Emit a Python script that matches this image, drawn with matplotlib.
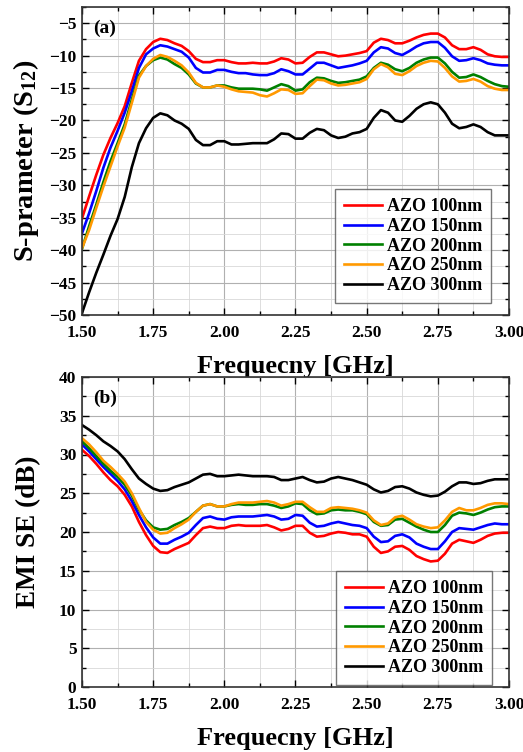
import matplotlib
matplotlib.use("Agg")
import matplotlib.pyplot as plt
from matplotlib.ticker import MultipleLocator, FormatStrFormatter

plt.rcParams['font.family'] = ['Liberation Serif', 'DejaVu Serif']
plt.rcParams['font.weight'] = 'bold'
plt.rcParams['mathtext.fontset'] = 'custom'
plt.rcParams['mathtext.rm'] = 'Liberation Serif:bold'
plt.rcParams['mathtext.bf'] = 'Liberation Serif:bold'
plt.rcParams['mathtext.it'] = 'Liberation Serif:bold'
plt.rcParams['mathtext.default'] = 'bf'

freq = [1.500, 1.525, 1.550, 1.575, 1.600, 1.625, 1.650, 1.675, 1.700, 1.725,
        1.750, 1.775, 1.800, 1.825, 1.850, 1.875, 1.900, 1.925, 1.950, 1.975,
        2.000, 2.025, 2.050, 2.075, 2.100, 2.125, 2.150, 2.175, 2.200, 2.225,
        2.250, 2.275, 2.300, 2.325, 2.350, 2.375, 2.400, 2.425, 2.450, 2.475,
        2.500, 2.525, 2.550, 2.575, 2.600, 2.625, 2.650, 2.675, 2.700, 2.725,
        2.750, 2.775, 2.800, 2.825, 2.850, 2.875, 2.900, 2.925, 2.950, 2.975,
        3.000]

labels = ["AZO 100nm", "AZO 150nm", "AZO 200nm", "AZO 250nm", "AZO 300nm"]
colors = ["#ff0000", "#0000ff", "#008000", "#ff9900", "#000000"]

# (a) S-parameter S12 [dB]
s12_100 = [-35.1, -31.7, -28.4, -25.3, -22.7, -20.4, -17.8, -14.2, -10.8, -9.0,
           -7.9, -7.4, -7.6, -8.1, -8.5, -9.3, -10.5, -11.0, -11.0, -10.7,
           -10.7, -11.0, -11.2, -11.2, -11.1, -11.2, -11.2, -10.9, -10.4, -10.6,
           -11.2, -11.1, -10.2, -9.5, -9.5, -9.8, -10.1, -10.0, -9.8, -9.6,
           -9.3, -8.0, -7.4, -7.6, -8.1, -8.1, -7.7, -7.2, -6.8, -6.6,
           -6.6, -7.2, -8.4, -9.0, -9.0, -8.7, -9.1, -9.8, -10.1, -10.2,
           -10.2]
s12_150 = [-37.4, -34.3, -30.9, -27.3, -24.2, -21.6, -18.8, -15.5, -11.9, -9.8,
           -8.9, -8.4, -8.6, -9.0, -9.4, -10.3, -11.9, -12.6, -12.6, -12.2,
           -12.2, -12.5, -12.7, -12.7, -12.9, -13.0, -13.0, -12.7, -12.1, -12.4,
           -12.9, -12.9, -12.0, -11.1, -11.1, -11.5, -11.9, -11.7, -11.5, -11.2,
           -10.8, -9.5, -8.7, -8.9, -9.6, -9.9, -9.3, -8.6, -8.1, -7.9,
           -7.9, -8.8, -10.1, -10.8, -10.7, -10.4, -10.7, -11.2, -11.4, -11.5,
           -11.5]
s12_200 = [-39.8, -36.3, -33.0, -29.5, -26.3, -23.5, -20.6, -16.8, -13.1, -11.6,
           -10.7, -10.3, -10.6, -11.3, -11.9, -12.9, -14.3, -14.9, -14.9, -14.6,
           -14.6, -14.9, -15.1, -15.1, -15.1, -15.2, -15.4, -14.9, -14.4, -14.7,
           -15.4, -15.2, -14.1, -13.4, -13.5, -13.9, -14.2, -14.1, -13.9, -13.7,
           -13.2, -11.9, -11.1, -11.4, -12.1, -12.4, -11.9, -11.1, -10.6, -10.3,
           -10.3, -11.2, -12.5, -13.4, -13.3, -12.9, -13.3, -13.9, -14.4, -14.7,
           -14.8]
s12_250 = [-39.7, -36.9, -33.5, -30.2, -27.1, -24.0, -21.1, -17.3, -13.4, -11.6,
           -10.5, -9.9, -10.2, -10.8, -11.5, -12.6, -14.2, -14.9, -14.9, -14.6,
           -14.8, -15.2, -15.5, -15.6, -15.7, -16.1, -16.3, -15.8, -15.2, -15.3,
           -15.9, -15.8, -14.7, -13.7, -13.8, -14.3, -14.6, -14.5, -14.3, -14.1,
           -13.6, -12.1, -11.3, -11.8, -12.8, -13.0, -12.4, -11.6, -11.1, -10.8,
           -10.9, -11.9, -13.2, -14.0, -13.9, -13.6, -14.0, -14.7, -15.1, -15.3,
           -15.3]
s12_300 = [-49.7, -46.5, -43.5, -40.7, -37.8, -35.2, -31.8, -27.2, -23.5, -21.2,
           -19.6, -18.9, -19.2, -20.0, -20.5, -21.3, -23.0, -23.8, -23.8, -23.2,
           -23.2, -23.7, -23.7, -23.6, -23.5, -23.5, -23.5, -22.9, -22.0, -22.1,
           -22.8, -22.8, -21.9, -21.3, -21.5, -22.3, -22.7, -22.5, -22.0, -21.8,
           -21.3, -19.6, -18.4, -18.8, -20.0, -20.2, -19.3, -18.2, -17.5, -17.2,
           -17.5, -18.8, -20.5, -21.2, -21.0, -20.6, -21.0, -21.8, -22.3, -22.3,
           -22.3]

# (b) EMI SE [dB]
se_100 = [30.6, 29.8, 28.8, 27.7, 26.7, 25.9, 24.8, 23.3, 21.3, 19.6,
          18.2, 17.4, 17.3, 17.8, 18.2, 18.6, 19.6, 20.5, 20.7, 20.5,
          20.5, 20.8, 20.9, 20.8, 20.8, 20.8, 20.9, 20.6, 20.2, 20.4,
          20.8, 20.8, 19.9, 19.4, 19.5, 19.8, 20.0, 19.9, 19.7, 19.7,
          19.4, 18.1, 17.3, 17.5, 18.1, 18.2, 17.7, 16.9, 16.5, 16.2,
          16.3, 17.2, 18.5, 19.0, 18.8, 18.6, 19.0, 19.5, 19.8, 19.9,
          19.9]
se_150 = [31.3, 30.4, 29.4, 28.4, 27.5, 26.6, 25.5, 24.0, 22.2, 20.6,
          19.3, 18.5, 18.5, 19.0, 19.4, 19.9, 20.9, 21.8, 22.0, 21.7,
          21.6, 21.9, 22.0, 22.0, 22.0, 22.1, 22.2, 22.0, 21.6, 21.7,
          22.2, 22.1, 21.2, 20.7, 20.8, 21.1, 21.3, 21.1, 20.9, 20.8,
          20.5, 19.4, 18.7, 18.8, 19.5, 19.7, 19.3, 18.5, 18.1, 17.8,
          17.8, 18.8, 20.0, 20.5, 20.4, 20.3, 20.6, 20.9, 21.1, 21.0,
          21.0]
se_200 = [31.7, 30.8, 29.8, 28.8, 27.9, 27.1, 26.1, 24.7, 22.9, 21.5,
          20.6, 20.3, 20.4, 20.9, 21.3, 21.8, 22.6, 23.4, 23.6, 23.3,
          23.3, 23.5, 23.6, 23.5, 23.5, 23.6, 23.6, 23.4, 23.1, 23.3,
          23.7, 23.6, 22.8, 22.3, 22.4, 22.8, 22.9, 22.8, 22.8, 22.6,
          22.3, 21.3, 20.8, 20.9, 21.6, 21.7, 21.2, 20.7, 20.3, 20.0,
          20.0, 20.9, 22.1, 22.5, 22.4, 22.2, 22.5, 22.9, 23.2, 23.3,
          23.3]
se_250 = [32.1, 31.3, 30.3, 29.2, 28.4, 27.5, 26.5, 25.0, 23.1, 21.3,
          20.3, 19.8, 19.9, 20.5, 21.0, 21.6, 22.6, 23.4, 23.6, 23.3,
          23.3, 23.6, 23.8, 23.8, 23.8, 23.9, 24.0, 23.8, 23.4, 23.6,
          23.9, 23.9, 23.2, 22.6, 22.6, 23.1, 23.2, 23.1, 23.0, 22.8,
          22.5, 21.5, 20.9, 21.1, 21.9, 22.1, 21.6, 21.0, 20.7, 20.5,
          20.6, 21.5, 22.6, 23.1, 22.8, 22.8, 23.1, 23.5, 23.7, 23.7,
          23.6]
se_300 = [33.8, 33.2, 32.5, 31.7, 31.1, 30.4, 29.4, 28.1, 26.9, 26.2,
          25.6, 25.3, 25.4, 25.8, 26.1, 26.4, 26.9, 27.4, 27.5, 27.2,
          27.2, 27.3, 27.4, 27.3, 27.2, 27.2, 27.2, 27.1, 26.7, 26.7,
          26.9, 27.1, 26.7, 26.4, 26.5, 26.9, 27.1, 26.9, 26.7, 26.4,
          26.1, 25.5, 25.1, 25.3, 25.8, 25.9, 25.6, 25.1, 24.8, 24.6,
          24.7, 25.2, 25.9, 26.4, 26.4, 26.2, 26.3, 26.6, 26.8, 26.8,
          26.8]

s12_series = [s12_100, s12_150, s12_200, s12_250, s12_300]
se_series = [se_100, se_150, se_200, se_250, se_300]

W, H = 523, 752
fig = plt.figure(figsize=(W / 100, H / 100), dpi=100)
ax1 = fig.add_axes([82 / W, 1 - 315 / H, 427 / W, 308 / H])
ax2 = fig.add_axes([82 / W, 1 - 687 / H, 427 / W, 310 / H])


def style(ax, ylim, ylabel, ylsize, panel, lab_x):
    ax.set_xlim(1.5, 3.0)
    ax.set_ylim(*ylim)
    ax.xaxis.set_major_locator(MultipleLocator(0.25))
    ax.xaxis.set_minor_locator(MultipleLocator(0.125))
    ax.yaxis.set_major_locator(MultipleLocator(5))
    ax.yaxis.set_minor_locator(MultipleLocator(2.5))
    ax.xaxis.set_major_formatter(FormatStrFormatter('%.2f'))
    ax.grid(True, which='major', color='#b0b0b0', lw=0.8)
    ax.grid(True, which='minor', color='#d8d8d8', lw=0.6)
    ax.set_axisbelow(True)
    ax.tick_params(which='both', direction='in', top=True, right=True,
                   labelsize=12.5, width=1.0)
    ax.tick_params(axis='x', which='major', pad=7)
    ax.tick_params(axis='y', which='major', pad=4)
    ax.tick_params(which='major', length=5)
    ax.tick_params(which='minor', length=3)
    for s in ax.spines.values():
        s.set_linewidth(1.2)
        s.set_color('#333333')
    for lbl in ax.get_xticklabels() + ax.get_yticklabels():
        lbl.set_fontweight('bold')
    ax.set_xlabel('Frequecny [GHz]', fontsize=19, fontweight='bold', labelpad=10)
    ax.set_ylabel(ylabel, fontsize=ylsize, fontweight='bold')
    ax.yaxis.set_label_coords(lab_x, 0.5)
    ax.text(0.025, 0.96, panel, transform=ax.transAxes, fontsize=14,
            fontweight='bold', va='top', ha='left')


for ys, c, l in zip(s12_series, colors, labels):
    ax1.plot(freq, ys, color=c, lw=1.9, label=l)
for ys, c, l in zip(se_series, colors, labels):
    ax2.plot(freq, ys, color=c, lw=1.9, label=l)

style(ax1, (-50, -2.5), r'S-prameter (S$_{12}$)', 20.5, '(a)', -0.095)
style(ax2, (0, 40), 'EMI SE (dB)', 19.5, '(b)', -0.095)

for ax, anchor in ((ax1, (0.958, 0.039)), (ax2, (0.960, 0.006))):
    leg = ax.legend(loc='lower right', bbox_to_anchor=anchor, fontsize=13,
                    frameon=True, fancybox=False, edgecolor='#555555',
                    handlelength=2.1, labelspacing=0.15, borderpad=0.5,
                    handletextpad=0.25, borderaxespad=0.0)
    leg.get_frame().set_linewidth(1.0)
    for t in leg.get_texts():
        t.set_fontweight('bold')

fig.savefig('out.png', dpi=100)
